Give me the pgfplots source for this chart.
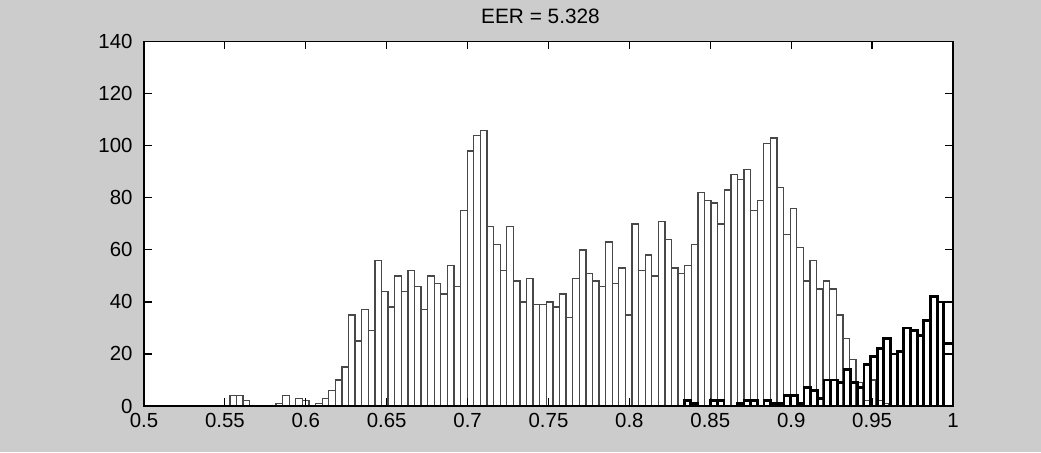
\documentclass[border=0pt]{standalone}
\usepackage{fontspec}
\setmainfont{Liberation Sans}
\usepackage{pgfplots}
\pgfplotsset{compat=1.18}
\definecolor{figbg}{RGB}{204,204,204}
\definecolor{impedge}{RGB}{72,72,72}
\begin{document}
\fontsize{10}{12}\selectfont
\begin{tikzpicture}
\useasboundingbox (-72pt,-23pt) rectangle (448.5pt,203pt);
\fill[figbg] (-72pt,-23pt) rectangle (448.5pt,203pt);
\begin{axis}[
  at={(0pt,0pt)}, anchor=south west,
  width=404.5pt, height=182.15pt, scale only axis,
  xmin=0.5, xmax=1, ymin=0, ymax=140,
  xtick={0.5,0.55,0.6,0.65,0.7,0.75,0.8,0.85,0.9,0.95,1},
  xticklabels={0.5,0.55,0.6,0.65,0.7,0.75,0.8,0.85,0.9,0.95,1},
  ytick={0,20,40,60,80,100,120,140},
  yticklabels={0,20,40,60,80,100,120,140},
  tick align=inside, xtick pos=both, ytick pos=both,
  major tick length=3.85pt,
  axis line style={line width=0.6pt},
  every tick/.style={black, line width=0.6pt},
  tick label style={font=\fontsize{10.2}{12}\selectfont},
  /pgf/number format/assume math mode=true,
  yticklabel style={xshift=-2.2pt},
  title={EER = 5.328},
  title style={at={(0.5,1)}, anchor=base, yshift=3.3pt, xshift=-4pt, font=\fontsize{10.4}{12}\selectfont},
  axis background/.style={fill=white},
  axis on top=true,
]
\addplot[ybar, bar width=0.004074, bar shift=0pt, draw=impedge, line width=0.65pt, fill=white] coordinates {
(0.55513,4) (0.55920,4) (0.56328,2) (0.56735,0) (0.57142,0) (0.57550,0) (0.57957,0) (0.58365,1) (0.58772,4) (0.59179,0)
(0.59587,3) (0.59994,2) (0.60402,0) (0.60809,1) (0.61216,3) (0.61624,6) (0.62031,10) (0.62439,15) (0.62846,35) (0.63253,25)
(0.63661,37) (0.64068,29) (0.64476,56) (0.64883,44) (0.65290,38) (0.65698,50) (0.66105,44) (0.66513,52) (0.66920,46) (0.67327,37)
(0.67735,50) (0.68142,47) (0.68550,43) (0.68957,54) (0.69364,46) (0.69772,75) (0.70179,98) (0.70587,104) (0.70994,106) (0.71401,69)
(0.71809,62) (0.72216,52) (0.72624,69) (0.73031,48) (0.73438,40) (0.73846,49) (0.74253,39) (0.74661,39) (0.75068,40) (0.75475,38)
(0.75883,43) (0.76290,34) (0.76698,49) (0.77105,60) (0.77512,51) (0.77920,48) (0.78327,46) (0.78735,63) (0.79142,47) (0.79549,53)
(0.79957,35) (0.80364,70) (0.80772,52) (0.81179,58) (0.81586,50) (0.81994,71) (0.82401,64) (0.82809,53) (0.83216,51) (0.83623,54)
(0.84031,62) (0.84438,82) (0.84846,79) (0.85253,78) (0.85660,70) (0.86068,83) (0.86475,89) (0.86883,87) (0.87290,91) (0.87697,75)
(0.88105,79) (0.88512,101) (0.88920,103) (0.89327,84) (0.89734,66) (0.90142,76) (0.90549,61) (0.90957,48) (0.91364,56) (0.91771,45)
(0.92179,48) (0.92586,45) (0.92994,35) (0.93401,26) (0.93808,18) (0.94216,9) (0.94623,2) (0.95031,10) (0.95438,2) (0.95845,1)
};
\addplot[ybar, bar width=0.00568, bar shift=0pt, draw=impedge, line width=0.65pt, fill=none] coordinates {(0.99716,40)};
\addplot[ybar, bar width=0.0041152, bar shift=0pt, draw=black, line width=1.4pt, fill=none] coordinates {
(0.83589,2) (0.84000,1) (0.84412,0) (0.84823,0) (0.85235,2) (0.85646,2) (0.86058,0) (0.86469,0) (0.86881,1) (0.87293,2)
(0.87704,2) (0.88116,0) (0.88527,2) (0.88939,1) (0.89350,1) (0.89762,4) (0.90173,4) (0.90585,1) (0.90996,7) (0.91408,6)
(0.91819,3) (0.92231,10) (0.92642,10) (0.93054,9) (0.93465,14) (0.93877,9) (0.94288,7) (0.94700,16) (0.95112,19) (0.95523,22)
(0.95935,26) (0.96346,20) (0.96758,21) (0.97169,30) (0.97581,29) (0.97992,27) (0.98404,33) (0.98815,42) (0.99227,40)
};
\addplot[ybar, bar width=0.00568, bar shift=0pt, draw=black, line width=1.4pt, fill=none] coordinates {(0.99716,24)};
\end{axis}
\end{tikzpicture}
\end{document}
